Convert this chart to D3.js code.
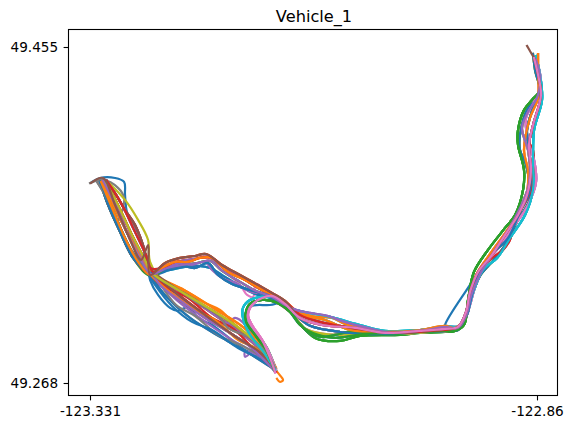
<!DOCTYPE html>
<html>
<head>
<meta charset="utf-8">
<script src="https://cdn.jsdelivr.net/npm/d3@7"></script>
<style>
    html, body { margin: 0; padding: 0; background: #fff; }
    svg { display: block; }
    text { font-family: "DejaVu Sans", sans-serif; fill: #000; }
</style>
</head>
<body>
<svg id="chart" width="578" height="433"></svg>
<script>
const TITLE = 'Vehicle_1';
const X_TICKS = [-123.331, -122.86];
const Y_TICKS = [49.268, 49.455];
const X_TICK_LABELS = ['-123.331', '-122.86'];
const Y_TICK_LABELS = ['49.268', '49.455'];
const COLORS = ['#1f77b4', '#ff7f0e', '#2ca02c', '#d62728', '#9467bd', '#8c564b', '#e377c2', '#7f7f7f', '#bcbd22', '#17becf'];

// [lon, lat], one array per stretch of the route
// west end down to the junction
const west1 = [[-123.3204,49.3799],[-123.3120,49.3671],[-123.2994,49.3521],[-123.2857,49.3376],[-123.2677,49.3276]];
const west2 = [[-123.3194,49.3799],[-123.3078,49.3654],[-123.2941,49.3487],[-123.2804,49.3354],[-123.2677,49.3281]];
const west3 = [[-123.3173,49.3805],[-123.3046,49.3671],[-123.2909,49.3504],[-123.2772,49.3365],[-123.2667,49.3287]];
const west4 = [[-123.3152,49.3805],[-123.3015,49.3671],[-123.2878,49.3515],[-123.2741,49.3376],[-123.2656,49.3293]];
const west5 = [[-123.3131,49.3805],[-123.2983,49.3682],[-123.2836,49.3521],[-123.2720,49.3393],[-123.2646,49.3298]];
const west6 = [[-123.3236,49.3799],[-123.3152,49.3726],[-123.3015,49.3576],[-123.2909,49.3448],[-123.2698,49.3298]];
const west7 = [[-123.3183,49.3799],[-123.3099,49.3710],[-123.3015,49.3615],[-123.2920,49.3521],[-123.2814,49.3421],[-123.2720,49.3332],[-123.2667,49.3281]];
const west8 = [[-123.3162,49.3805],[-123.3067,49.3716],[-123.2972,49.3615],[-123.2857,49.3487],[-123.2783,49.3409],[-123.2688,49.3320]];
const west9 = [[-123.3141,49.3805],[-123.3036,49.3727],[-123.2941,49.3643],[-123.2836,49.3560],[-123.2751,49.3448],[-123.2677,49.3320]];
const west10 = [[-123.3204,49.3799],[-123.3141,49.3721],[-123.3067,49.3632],[-123.2972,49.3521],[-123.2867,49.3409],[-123.2709,49.3298]];
const west11 = [[-123.3099,49.3788],[-123.2941,49.3699],[-123.2804,49.3588],[-123.2698,49.3476],[-123.2677,49.3354]];
// junction to the south end
const south1 = [[-123.2488,49.3142],[-123.2172,49.3020],[-123.1834,49.2909],[-123.1539,49.2820],[-123.1371,49.2741]];
const south2 = [[-123.2446,49.3165],[-123.2151,49.3042],[-123.1813,49.2920],[-123.1518,49.2831],[-123.1371,49.2753]];
const south3 = [[-123.2404,49.3181],[-123.2098,49.3059],[-123.1771,49.2936],[-123.1497,49.2842],[-123.1360,49.2753]];
const south4 = [[-123.2361,49.3187],[-123.2045,49.3076],[-123.1729,49.2959],[-123.1476,49.2853],[-123.1360,49.2764]];
const south5 = [[-123.2319,49.3198],[-123.1993,49.3092],[-123.1687,49.2987],[-123.1455,49.2864],[-123.1350,49.2764]];
const south6 = [[-123.2519,49.3170],[-123.2256,49.3042],[-123.1919,49.2931],[-123.1624,49.2842],[-123.1392,49.2764]];
const south7 = [[-123.2382,49.3198],[-123.2066,49.3098],[-123.1782,49.3003],[-123.1539,49.2892],[-123.1381,49.2775]];
const south8 = [[-123.2572,49.3226],[-123.2340,49.3131],[-123.2098,49.3042],[-123.1887,49.2975],[-123.1645,49.2892],[-123.1497,49.2820],[-123.1371,49.2753]];
const south9 = [[-123.2509,49.3215],[-123.2277,49.3153],[-123.2024,49.3042],[-123.1813,49.2987],[-123.1603,49.2881],[-123.1434,49.2808],[-123.1350,49.2741]];
const south10 = [[-123.2467,49.3187],[-123.2203,49.3087],[-123.1993,49.3031],[-123.1750,49.2920],[-123.1571,49.2875],[-123.1413,49.2797]];
const south11 = [[-123.2593,49.3243],[-123.2404,49.3115],[-123.2203,49.3053],[-123.1961,49.2948],[-123.1708,49.2887],[-123.1476,49.2820],[-123.1371,49.2764]];
const south12 = [[-123.2414,49.3210],[-123.2193,49.3131],[-123.1961,49.3059],[-123.1855,49.2987],[-123.1624,49.2931],[-123.1455,49.2853],[-123.1360,49.2764]];
const south13 = [[-123.2625,49.3226],[-123.2446,49.3109],[-123.2235,49.3020],[-123.2024,49.2975],[-123.1750,49.2875],[-123.1539,49.2820],[-123.1392,49.2775]];
// junction along the upper branch
const upper1 = [[-123.2519,49.3348],[-123.2361,49.3376],[-123.2203,49.3387],[-123.2087,49.3398],[-123.1919,49.3337],[-123.1729,49.3281],[-123.1539,49.3226],[-123.1392,49.3181],[-123.1255,49.3137]];
const upper2 = [[-123.2519,49.3332],[-123.2361,49.3359],[-123.2203,49.3371],[-123.2066,49.3382],[-123.1898,49.3320],[-123.1708,49.3265],[-123.1539,49.3209],[-123.1392,49.3170],[-123.1255,49.3126]];
const upper3 = [[-123.2498,49.3320],[-123.2340,49.3337],[-123.2182,49.3348],[-123.2045,49.3359],[-123.1919,49.3304],[-123.1729,49.3243],[-123.1560,49.3192],[-123.1392,49.3159],[-123.1255,49.3114]];
const upper4 = [[-123.2467,49.3309],[-123.2309,49.3326],[-123.2172,49.3332],[-123.2045,49.3320],[-123.1887,49.3270],[-123.1729,49.3220],[-123.1571,49.3176],[-123.1413,49.3153],[-123.1255,49.3109]];
const upper5 = [[-123.2519,49.3332],[-123.2309,49.3354],[-123.2098,49.3376],[-123.1919,49.3309],[-123.1729,49.3226],[-123.1655,49.3170],[-123.1592,49.3159],[-123.1560,49.3231],[-123.1413,49.3170],[-123.1255,49.3126]];
const upper6 = [[-123.2551,49.3320],[-123.2414,49.3354],[-123.2277,49.3354],[-123.2151,49.3376],[-123.2024,49.3376],[-123.1855,49.3298],[-123.1676,49.3253],[-123.1497,49.3198],[-123.1360,49.3165],[-123.1223,49.3120]];
const upper7 = [[-123.2488,49.3326],[-123.2361,49.3348],[-123.2235,49.3337],[-123.2098,49.3354],[-123.2024,49.3309],[-123.1919,49.3265],[-123.1750,49.3231],[-123.1624,49.3187],[-123.1434,49.3176],[-123.1223,49.3109]];
const upper8 = [[-123.2467,49.3320],[-123.2340,49.3332],[-123.2203,49.3320],[-123.2066,49.3348],[-123.1961,49.3281],[-123.1813,49.3231],[-123.1624,49.3198],[-123.1413,49.3165],[-123.1255,49.3131]];
// along the river to the bend
const mid1 = [[-123.1097,49.3081],[-123.0781,49.3048],[-123.0465,49.3003],[-123.0201,49.2970],[-122.9833,49.2975],[-122.9569,49.2987]];
const mid2 = [[-123.1097,49.3042],[-123.0865,49.3003],[-123.0517,49.2987],[-123.0201,49.2959],[-122.9833,49.2970],[-122.9569,49.2981]];
const mid3 = [[-123.1118,49.3048],[-123.0991,49.2998],[-123.0676,49.2964],[-123.0201,49.2953],[-122.9833,49.2970],[-122.9569,49.2975]];
const mid4 = [[-123.1129,49.3031],[-123.0939,49.2931],[-123.0676,49.2914],[-123.0465,49.2942],[-123.0043,49.2948],[-122.9833,49.2959],[-122.9569,49.2964]];
const mid5 = [[-123.1097,49.3003],[-123.0907,49.2948],[-123.0728,49.2931],[-123.0412,49.2953],[-123.0043,49.2959],[-122.9569,49.2970]];
const mid6 = [[-123.1118,49.3064],[-123.0833,49.3031],[-123.0570,49.2975],[-123.0201,49.2964],[-122.9833,49.2975],[-122.9569,49.2998]];
const mid7 = [[-123.1139,49.3087],[-123.0991,49.3070],[-123.0800,49.3053],[-123.0623,49.3020],[-123.0380,49.2987],[-123.0128,49.2959],[-122.9780,49.2975],[-122.9569,49.2992]];
const mid8 = [[-123.1118,49.3076],[-123.0971,49.3053],[-123.0760,49.3042],[-123.0623,49.3009],[-123.0307,49.2975],[-123.0043,49.2964],[-122.9622,49.2975]];
const mid9 = [[-123.1118,49.3020],[-123.1013,49.2964],[-123.0865,49.2936],[-123.0728,49.2948],[-123.0549,49.2964],[-123.0254,49.2948],[-122.9833,49.2964],[-122.9569,49.2970]];
const mid10 = [[-123.1139,49.3042],[-123.1055,49.2987],[-123.0907,49.2959],[-123.0676,49.2948],[-123.0465,49.2959],[-123.0149,49.2953],[-122.9727,49.2964]];
const mid11 = [[-123.1097,49.3059],[-123.0886,49.3020],[-123.0676,49.2998],[-123.0412,49.2975],[-123.0149,49.2959],[-122.9727,49.2970]];
// bend up to the north end
const east1 = [[-122.9432,49.2992],[-122.9348,49.3076],[-122.9306,49.3187],[-122.9221,49.3298],[-122.9074,49.3393],[-122.8937,49.3504],[-122.8800,49.3615],[-122.8705,49.3727],[-122.8663,49.3866],[-122.8684,49.4005],[-122.8642,49.4116],[-122.8558,49.4283],[-122.8589,49.4395],[-122.8631,49.4489]];
const east2 = [[-122.9464,49.2970],[-122.9369,49.3003],[-122.9327,49.3142],[-122.9264,49.3298],[-122.9116,49.3421],[-122.8937,49.3543],[-122.8831,49.3615],[-122.8747,49.3755],[-122.8737,49.3866],[-122.8800,49.4005],[-122.8800,49.4088],[-122.8737,49.4200],[-122.8653,49.4255],[-122.8568,49.4311],[-122.8600,49.4422],[-122.8631,49.4489]];
const east3 = [[-122.9411,49.2998],[-122.9327,49.3087],[-122.9264,49.3198],[-122.9169,49.3309],[-122.9021,49.3376],[-122.8863,49.3504],[-122.8726,49.3615],[-122.8642,49.3755],[-122.8642,49.3921],[-122.8631,49.4088],[-122.8547,49.4255],[-122.8568,49.4395],[-122.8610,49.4500]];
const east4 = [[-122.9432,49.2975],[-122.9337,49.3059],[-122.9285,49.3170],[-122.9200,49.3309],[-122.9053,49.3409],[-122.8905,49.3487],[-122.8779,49.3632],[-122.8674,49.3755],[-122.8684,49.3977],[-122.8705,49.4088],[-122.8631,49.4228],[-122.8568,49.4311],[-122.8621,49.4467]];
const east5 = [[-122.9464,49.2987],[-122.9358,49.3042],[-122.9316,49.3153],[-122.9242,49.3281],[-122.9095,49.3398],[-122.8958,49.3498],[-122.8821,49.3604],[-122.8716,49.3710],[-122.8695,49.3855],[-122.8737,49.3977],[-122.8674,49.4155],[-122.8589,49.4267],[-122.8589,49.4411],[-122.8589,49.4511]];
const east6 = [[-122.9432,49.2987],[-122.9348,49.3064],[-122.9295,49.3176],[-122.9211,49.3298],[-122.9074,49.3376],[-122.8958,49.3421],[-122.8885,49.3476],[-122.8853,49.3543],[-122.8779,49.3632],[-122.8663,49.3755],[-122.8642,49.3977],[-122.8684,49.4022],[-122.8642,49.4088],[-122.8558,49.4283],[-122.8600,49.4433]];
const east7 = [[-122.9432,49.2987],[-122.9348,49.3053],[-122.9295,49.3165],[-122.9200,49.3287],[-122.9042,49.3421],[-122.8916,49.3521],[-122.8779,49.3654],[-122.8695,49.3766],[-122.8674,49.3877],[-122.8695,49.3977],[-122.8758,49.4100],[-122.8695,49.4189],[-122.8600,49.4267],[-122.8568,49.4378],[-122.8610,49.4478]];
const east8 = [[-122.9411,49.2987],[-122.9316,49.3098],[-122.9242,49.3231],[-122.9137,49.3343],[-122.8990,49.3443],[-122.8842,49.3554],[-122.8695,49.3671],[-122.8610,49.3799],[-122.8631,49.3921],[-122.8695,49.4033],[-122.8716,49.4155],[-122.8631,49.4244],[-122.8558,49.4344],[-122.8600,49.4467]];
const east9 = [[-122.9390,49.3003],[-122.9306,49.3131],[-122.9200,49.3276],[-122.9074,49.3354],[-122.8937,49.3448],[-122.8800,49.3588],[-122.8674,49.3710],[-122.8716,49.3894],[-122.8779,49.3977],[-122.8779,49.4061],[-122.8695,49.4211],[-122.8568,49.4283],[-122.8621,49.4422],[-122.8642,49.4511]];
// south end back up to the upper branch
const plug1 = [[-123.1360,49.2741],[-123.1413,49.2820],[-123.1497,49.2920],[-123.1603,49.3003],[-123.1645,49.3059],[-123.1603,49.3114],[-123.1497,49.3153],[-123.1392,49.3165],[-123.1255,49.3120]];
const plug2 = [[-123.1350,49.2753],[-123.1434,49.2864],[-123.1539,49.2948],[-123.1634,49.3020],[-123.1655,49.3076],[-123.1582,49.3126],[-123.1466,49.3159],[-123.1329,49.3153],[-123.1202,49.3098]];
const plug3 = [[-123.1371,49.2753],[-123.1455,49.2864],[-123.1571,49.2948],[-123.1666,49.3020],[-123.1666,49.3076],[-123.1624,49.3120],[-123.1497,49.3142],[-123.1360,49.3131],[-123.1202,49.3076]];
const plug4 = [[-123.1360,49.2753],[-123.1497,49.2864],[-123.1624,49.2948],[-123.1698,49.3042],[-123.1698,49.3098],[-123.1624,49.3142],[-123.1497,49.3159],[-123.1329,49.3153],[-123.1202,49.3098]];
const plug5 = [[-123.1381,49.2764],[-123.1497,49.2892],[-123.1624,49.3003],[-123.1655,49.3076],[-123.1603,49.3109],[-123.1413,49.3114],[-123.1255,49.3126]];
// single trips that leave the bands
const blueLoop = [[-123.3289,49.3799],[-123.3204,49.3821],[-123.3046,49.3821],[-123.2951,49.3799],[-123.2941,49.3727],[-123.2920,49.3632],[-123.2836,49.3543],[-123.2709,49.3354],[-123.2677,49.3253],[-123.2593,49.3170],[-123.2467,49.3098],[-123.2382,49.3081],[-123.2277,49.3103],[-123.2172,49.3042],[-123.2024,49.3003],[-123.1676,49.2864],[-123.1497,49.2820],[-123.1360,49.2741]];
const orangeSpur = [[-123.2519,49.3243],[-123.2098,49.3126],[-123.1940,49.3087],[-123.1782,49.3003],[-123.1571,49.2892],[-123.1413,49.2792],[-123.1329,49.2736],[-123.1276,49.2697],[-123.1308,49.2686],[-123.1340,49.2703]];
const greyLoop = [[-123.3310,49.3793],[-123.3173,49.3810],[-123.3015,49.3766],[-123.2951,49.3710],[-123.2973,49.3632],[-123.3015,49.3576],[-123.2909,49.3448],[-123.2698,49.3298],[-123.2467,49.3209],[-123.2203,49.3159],[-123.2151,49.3115],[-123.1993,49.3076],[-123.1729,49.2964],[-123.1497,49.2853],[-123.1360,49.2764]];
const purpleBump = [[-123.2414,49.3170],[-123.2098,49.3059],[-123.1887,49.3003],[-123.1782,49.3042],[-123.1676,49.3003],[-123.1571,49.2892],[-123.1676,49.2826],[-123.1676,49.2853],[-123.1550,49.2836],[-123.1466,49.2808],[-123.1360,49.2753]];
const brownSpike = [[-123.3300,49.3793],[-123.3173,49.3821],[-123.3046,49.3671],[-123.2909,49.3504],[-123.2772,49.3365],[-123.2698,49.3448],[-123.2677,49.3281]];
const blueDiag = [[-122.9569,49.3003],[-122.9327,49.3209],[-122.9200,49.3309],[-122.9053,49.3409],[-122.8905,49.3487],[-122.8779,49.3632],[-122.8674,49.3755],[-122.8684,49.3977],[-122.8705,49.4088],[-122.8631,49.4228],[-122.8568,49.4311],[-122.8621,49.4467]];
const brownTip = [[-122.8631,49.4489],[-122.8674,49.4528],[-122.8705,49.4556]];

// whole trips in drawing order, the colour cycle follows it
const tracks = [
    blueLoop,
    west3.concat(orangeSpur),
    plug3.concat(mid4, east2),
    west3.concat(upper2, mid2, east6),
    west4.concat(south2),
    west2.concat(south3),
    west5.concat(upper5, mid6, east3),
    greyLoop,
    west5.concat(south4),
    plug4.concat(mid1, east3),
    plug5.concat(mid3, blueDiag),
    west3.concat(upper1, mid6, east5),
    plug2.concat(mid5, east1),
    west1.concat(south4),
    west2.concat(purpleBump),
    west3.concat(upper2, mid3, east4),
    plug1.concat(mid2, east1),
    west6.concat(south6),
    west4.concat(upper3, mid2, east5),
    west5.concat(upper4, mid1, east3),
    west2.concat(upper4, mid5, east4),
    west4.concat(south5),
    west1.concat(upper3, mid4, east2),
    west3.concat(south3),
    west5.concat(upper2, mid3, east1),
    west1.concat(south7),
    plug3.concat(mid2, east5),
    plug2.concat(mid3, east4),
    west2.concat(south7),
    plug4.concat(mid6, east3),
    west1.concat(south6),
    west3.concat(south5),
    plug3.concat(mid4, east2),
    west4.concat(south3),
    west3.concat(south4),
    west8.concat(south12),
    plug1.concat(mid11, east7),
    west10.concat(south11),
    west11.concat(south10),
    plug4.concat(mid8, east8),
    west10.concat(south13),
    west7.concat(upper6, mid8, east9),
    plug3.concat(mid9, east9),
    west8.concat(south9),
    west9.concat(upper7, mid7, east8),
    west7.concat(south8),
    plug1.concat(mid10, east8),
    west9.concat(upper8, mid9, east7),
    plug2.concat(mid10, east7),
    plug2.concat(mid11, east3),
    west10.concat(upper8, mid9, east9),
    west7.concat(south10),
    plug3.concat(mid9, east2),
    west9.concat(upper6, mid11, east6),
    west8.concat(south8),
    west9.concat(south3),
    plug2.concat(mid2, east8),
    west6.concat(south12),
    west4.concat(south7),
    plug4.concat(mid1, east3),
    west10.concat(upper8, mid3, east4),
    west2.concat(upper6, mid6, east5),
    plug3.concat(mid5, east2),
    west5.concat(upper1, mid11, east1),
    west3.concat(upper3, mid7, east7),
    brownSpike.concat(upper1, mid2, east1, brownTip),
    plug1.concat(mid2, east1)
];

const CHART_PARAMS = {
    left: 69,
    right: 558,
    top: 30,
    bottom: 396,
    xTickLeft: 90,
    xTickRight: 537,
    yTickTop: 47,
    yTickBottom: 383
};

const svg = d3.select('#chart');

const xScale = d3.scaleLinear().domain(X_TICKS).range([CHART_PARAMS.xTickLeft, CHART_PARAMS.xTickRight]);
const yScale = d3.scaleLinear().domain(Y_TICKS).range([CHART_PARAMS.yTickBottom, CHART_PARAMS.yTickTop]);

const line = d3.line()
    .x((d) => xScale(d[0]))
    .y((d) => yScale(d[1]))
    .curve(d3.curveCatmullRom.alpha(0.5));

svg.append('g').selectAll('path')
    .data(tracks)
    .enter().append('path')
    .attr('fill', 'none')
    .attr('stroke', (_, i) => COLORS[i % COLORS.length])
    .attr('stroke-width', 2.2)
    .attr('stroke-linecap', 'square')
    .attr('stroke-linejoin', 'round')
    .attr('d', (d) => line(d));

// frame
svg.append('rect')
    .attr('x', CHART_PARAMS.left - 0.5)
    .attr('y', CHART_PARAMS.top - 0.5)
    .attr('width', CHART_PARAMS.right - CHART_PARAMS.left)
    .attr('height', CHART_PARAMS.bottom - CHART_PARAMS.top)
    .attr('fill', 'none')
    .attr('stroke', '#000')
    .attr('stroke-width', 1.1);

const xAxis = d3.axisBottom(xScale)
    .tickValues(X_TICKS)
    .tickFormat((_, i) => X_TICK_LABELS[i])
    .tickSize(4.9)
    .tickPadding(6);
const yAxis = d3.axisLeft(yScale)
    .tickValues(Y_TICKS)
    .tickFormat((_, i) => Y_TICK_LABELS[i])
    .tickSize(4.9)
    .tickPadding(5.5);

svg.append('g')
    .attr('transform', `translate(0, ${CHART_PARAMS.bottom - 0.5})`)
    .call(xAxis)
    .call((g) => g.select('.domain').remove());
svg.append('g')
    .attr('transform', `translate(${CHART_PARAMS.left - 0.5}, 0)`)
    .call(yAxis)
    .call((g) => g.select('.domain').remove());

svg.selectAll('.tick line').attr('stroke-width', 1.1);
svg.selectAll('.tick text').style('font-family', '"DejaVu Sans", sans-serif').style('font-size', '13.6px');

svg.append('text')
    .attr('x', 314)
    .attr('y', 22)
    .attr('text-anchor', 'middle')
    .style('font-size', '16.2px')
    .text(TITLE);
</script>
</body>
</html>
